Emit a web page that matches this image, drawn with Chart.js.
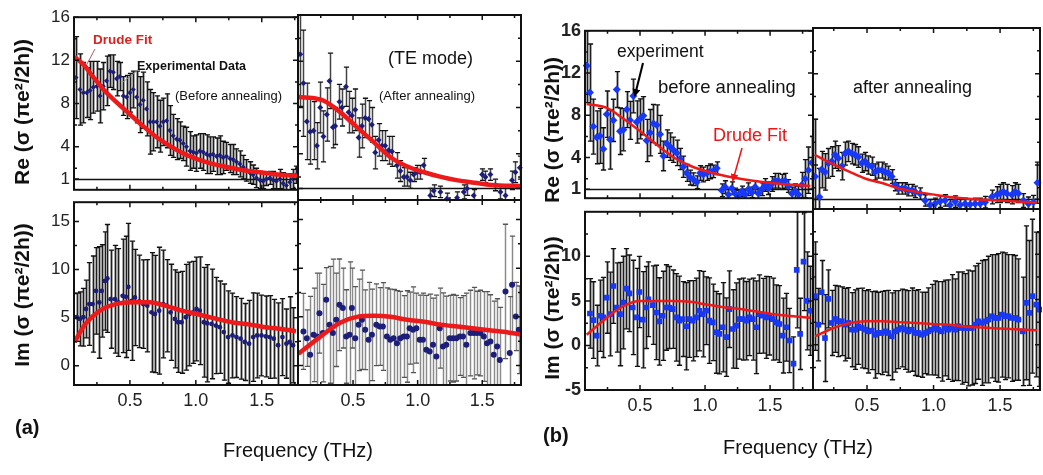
<!DOCTYPE html>
<html>
<head>
<meta charset="utf-8">
<script src="https://cdn.jsdelivr.net/npm/chart.js@4.4.1/dist/chart.umd.min.js"></script>
<style>
  html, body { margin: 0; padding: 0; background: #fff; }
  #fig { position: relative; width: 1043px; height: 475px; overflow: hidden;
         font-family: "Liberation Sans", Arial, sans-serif; color: #111; }
  #fig canvas { position: absolute; }
  .t { position: absolute; white-space: nowrap; line-height: 1; transform: translateY(-50%); }
  .yt { position: absolute; white-space: nowrap; line-height: 1; font-weight: bold;
        transform: translate(-50%, -50%) rotate(-90deg); }
  #notes { position: absolute; left: 0; top: 0; }
</style>
</head>
<body>
<div id="fig">
  <svg id="notes" width="1043" height="475">
    <defs>
      <marker id="headK" markerWidth="8" markerHeight="8" refX="6" refY="4" orient="auto" markerUnits="userSpaceOnUse">
        <path d="M0,0 L8,4 L0,8 z" fill="#000"/>
      </marker>
      <marker id="headR" markerWidth="8" markerHeight="8" refX="6" refY="4" orient="auto" markerUnits="userSpaceOnUse">
        <path d="M0,0 L8,4 L0,8 z" fill="#f01414"/>
      </marker>
    </defs>
    <line x1="95" y1="49" x2="87" y2="64" stroke="#b05a5a" stroke-width="1"/>
    <line x1="138" y1="70" x2="123" y2="82" stroke="#888" stroke-width="1"/>
    <line x1="643" y1="63" x2="635" y2="95" stroke="#000" stroke-width="2" marker-end="url(#headK)"/>
    <line x1="742" y1="148" x2="733" y2="180" stroke="#f01414" stroke-width="1.5" marker-end="url(#headR)"/>
  </svg>

  <div class="t" style="left:93px;top:40px;font-size:13.5px;font-weight:bold;color:#e0201c">Drude Fit</div>
  <div class="t" style="left:137px;top:66px;font-size:12.5px;font-weight:bold">Experimental Data</div>
  <div class="t" style="left:175px;top:95px;font-size:13px">(Before annealing)</div>
  <div class="t" style="left:388px;top:58px;font-size:18px">(TE mode)</div>
  <div class="t" style="left:379px;top:95px;font-size:13px">(After annealing)</div>

  <div class="t" style="left:617px;top:52px;font-size:17.5px">experiment</div>
  <div class="t" style="left:658px;top:87px;font-size:18.5px">before annealing</div>
  <div class="t" style="left:713px;top:135px;font-size:18px;color:#f01414">Drude Fit</div>
  <div class="t" style="left:853px;top:87px;font-size:18px">after annealing</div>

  <div class="yt" style="left:21px;top:112px;font-size:21px">Re (σ (πe²/2h))</div>
  <div class="yt" style="left:21px;top:295px;font-size:21px">Im (σ (πe²/2h))</div>
  <div class="yt" style="left:551px;top:130px;font-size:21px">Re (σ (πe²/2h))</div>
  <div class="yt" style="left:551px;top:308px;font-size:21px">Im (σ (πe²/2h))</div>

  <div class="t" style="left:223px;top:450px;font-size:20px">Frequency (THz)</div>
  <div class="t" style="left:723px;top:447px;font-size:20px">Frequency (THz)</div>
  <div class="t" style="left:15px;top:427px;font-size:20px;font-weight:bold">(a)</div>
  <div class="t" style="left:543px;top:435px;font-size:20px;font-weight:bold">(b)</div>
</div>

<script>
// ---- axis ticks ----
const xLabelTicks = [0.5, 1.0, 1.5];
const xMinorTicks = [0.25, 0.75, 1.25, 1.75];
const reTicks = [1, 4, 8, 12, 16];
const reMinor = [2, 6, 10, 14];
const imTicksA = [0, 5, 10, 15];
const imMinorA = [2.5, 7.5, 12.5];
const imTicksB = [-5, 0, 5, 10];
const imMinorB = [-2.5, 2.5, 7.5, 12.5];

// ---- (a) Re, before annealing ----
const aReBeforeX = [0.091,0.121,0.147,0.172,0.197,0.222,0.248,0.273,0.298,0.323,0.349,0.374,0.399,0.424,0.450,0.475,0.500,0.525,0.551,0.576,0.601,0.626,0.652,0.677,0.702,0.727,0.753,0.778,0.803,0.828,0.854,0.879,0.904,0.929,0.955,0.980,1.005,1.030,1.056,1.081,1.106,1.131,1.157,1.182,1.207,1.232,1.258,1.283,1.308,1.333,1.359,1.384,1.409,1.434,1.460,1.485,1.510,1.535,1.561,1.586,1.611,1.636,1.662,1.687,1.712,1.737,1.763];
const aReBeforeY = [10.4,9.3,9.0,9.0,9.2,9.5,9.6,8.7,9.6,10.1,11.0,10.9,10.3,10.5,8.7,8.6,9.0,9.3,8.6,7.9,8.3,7.5,6.3,6.3,6.3,5.9,6.3,6.4,5.5,5.0,4.7,4.6,4.3,4.0,3.6,3.5,3.4,3.6,3.5,3.3,3.2,3.3,3.1,3.2,3.0,3.1,2.9,2.8,2.6,2.4,2.1,1.8,1.6,1.4,1.1,0.9,0.8,1.0,1.1,0.9,0.8,1.0,0.6,0.4,0.7,1.0,1.4];
const aReBeforeErr = [3.8,3.3,2.8,2.3,2.7,2.4,2.3,2.5,2.2,2.3,1.5,1.6,1.6,1.3,1.8,2.0,1.8,1.7,2.4,2.6,2.6,2.5,3.0,2.7,2.4,2.4,2.2,2.5,2.3,2.0,1.9,1.7,1.6,1.8,1.8,1.5,1.7,1.6,1.7,1.8,1.7,1.6,1.7,1.8,1.5,1.3,1.3,1.4,1.2,1.2,1.1,1.0,1.0,0.9,0.9,0.8,0.7,0.6,0.6,0.8,0.7,0.9,1.0,0.9,0.8,0.9,0.8];
const aReBeforeFitX = [0.08,0.15,0.2,0.3,0.4,0.5,0.6,0.7,0.8,0.9,1.0,1.1,1.2,1.3,1.4,1.5,1.6,1.7,1.77];
const aReBeforeFitY = [12.3,11.6,10.8,9.3,8.1,7.0,5.9,4.9,4.1,3.4,2.9,2.5,2.2,1.95,1.75,1.6,1.45,1.35,1.3];

// ---- (a) Re, after annealing ----
const aReAfterX = [0.091,0.116,0.142,0.168,0.194,0.220,0.246,0.271,0.297,0.318,0.344,0.362,0.395,0.414,0.445,0.465,0.491,0.517,0.543,0.569,0.594,0.620,0.646,0.672,0.698,0.724,0.749,0.775,0.801,0.840,0.866,0.892,0.917,0.943,0.969,0.995,1.021,1.047,1.098,1.124,1.176,1.227,1.305,1.357,1.382,1.434,1.499,1.525,1.563,1.602,1.641,1.680,1.731,1.757,1.791];
const aReAfterY = [12.6,10.1,6.8,5.9,6.0,4.7,8.0,5.5,7.4,10.3,6.3,6.4,8.5,8.0,9.8,7.6,7.3,7.8,5.4,6.4,7.1,7.0,6.5,4.1,5.2,4.7,4.7,4.3,4.2,3.0,2.5,2.0,2.0,1.7,2.2,2.4,2.4,3.0,0.4,0.8,0.7,0.1,0.2,0.7,1.0,0.4,2.2,2.0,2.2,1.3,0.7,0.4,1.7,2.4,2.8];
const aReAfterErr = [4.5,4.6,3.3,2.8,2.5,2.0,2.2,2.2,2.3,2.4,1.8,1.6,1.5,1.6,1.7,1.8,1.5,1.8,1.7,1.9,1.7,1.6,1.5,1.4,1.4,1.3,1.3,1.2,1.3,1.1,0.9,0.8,0.8,0.7,0.6,0.6,0.6,0.6,0.6,0.5,0.5,0.5,0.5,0.6,0.6,0.5,0.5,0.5,0.5,0.5,0.6,0.6,0.8,0.9,1.0];
const aReAfterFitX = [0.077,0.15,0.2,0.27,0.40,0.53,0.66,0.79,0.92,1.05,1.18,1.31,1.44,1.57,1.8];
const aReAfterFitY = [8.9,8.85,8.8,8.6,7.6,6.3,5.0,3.7,2.9,2.4,2.0,1.7,1.5,1.3,1.2];

// ---- (a) Im, before annealing ----
const aImBeforeX = [0.096,0.121,0.147,0.167,0.192,0.217,0.243,0.268,0.286,0.311,0.329,0.354,0.387,0.412,0.445,0.470,0.488,0.513,0.538,0.571,0.601,0.632,0.664,0.690,0.722,0.753,0.778,0.808,0.841,0.866,0.892,0.924,0.950,0.980,1.005,1.030,1.061,1.086,1.119,1.152,1.182,1.212,1.245,1.278,1.308,1.339,1.371,1.404,1.435,1.465,1.498,1.531,1.561,1.591,1.624,1.657,1.687,1.712,1.737];
const aImBeforeY = [5.04,4.87,5.04,5.90,6.41,6.41,7.78,6.58,7.78,8.81,9.08,6.92,6.92,6.58,7.27,7.16,8.19,6.75,7.10,6.69,6.41,6.24,5.55,5.38,5.72,6.41,6.24,5.55,4.87,4.52,4.52,5.04,5.38,5.55,5.90,5.72,4.52,4.42,4.35,4.18,4.01,3.50,2.98,3.15,2.98,2.81,2.47,2.30,2.98,3.15,3.15,3.05,2.98,2.81,2.13,2.98,2.30,2.47,2.13];
const aImBeforeErr = [2.5,2.8,3.0,3.0,4.3,5.0,4.5,5.8,4.8,5.1,5.6,5.1,5.6,5.6,5.9,6.3,6.6,6.2,5.0,4.8,4.6,4.8,6.2,6.1,6.6,5.6,4.8,5.0,5.1,5.2,5.3,5.5,5.4,5.3,5.4,5.6,5.7,6.1,5.7,5.0,4.8,5.0,4.8,4.4,4.2,4.2,4.0,4.5,4.6,4.4,4.2,4.2,4.3,4.1,4.4,4.0,3.6,4.7,3.9];
const aImBeforeFitX = [0.08,0.166,0.27,0.39,0.52,0.65,0.78,0.90,1.03,1.15,1.28,1.40,1.53,1.66,1.76];
const aImBeforeFitY = [2.5,4.4,5.7,6.4,6.6,6.6,6.2,5.7,5.3,4.9,4.5,4.3,4.0,3.8,3.6];

// ---- (a) Im, after annealing ----
const aImAfterX = [0.116,0.142,0.168,0.194,0.220,0.240,0.266,0.292,0.318,0.344,0.370,0.395,0.421,0.447,0.473,0.491,0.517,0.543,0.569,0.594,0.620,0.646,0.680,0.706,0.731,0.762,0.788,0.814,0.840,0.866,0.892,0.917,0.938,0.964,0.990,1.016,1.041,1.067,1.093,1.119,1.145,1.171,1.196,1.222,1.248,1.274,1.300,1.326,1.351,1.377,1.408,1.434,1.460,1.486,1.512,1.537,1.563,1.589,1.615,1.636,1.680,1.713,1.731,1.760,1.783];
const aImAfterY = [3.50,2.81,1.11,3.15,2.98,5.38,3.33,6.75,4.18,3.33,4.70,6.24,5.90,2.98,3.15,5.90,2.81,4.18,4.70,3.67,2.64,3.15,4.18,4.01,4.01,2.98,2.64,2.81,2.30,2.81,2.98,2.98,3.84,3.67,3.84,2.64,2.64,1.61,1.44,2.13,0.93,3.84,1.96,2.13,2.81,2.81,2.81,2.98,2.98,2.13,3.33,3.33,3.33,3.33,2.98,2.30,2.47,1.11,1.96,0.58,7.61,1.28,8.29,5.04,3.67];
const aImAfterErr = [3.9,2.9,6.0,4.8,6.5,4.1,5.0,3.3,6.0,7.6,4.8,4.7,4.1,4.8,7.5,4.1,5.3,4.7,5.1,4.1,5.9,4.7,4.2,4.0,4.5,5.0,5.2,5.0,5.4,4.8,4.2,4.7,3.7,4.4,3.6,4.6,4.8,5.6,5.9,4.8,6.3,4.1,5.5,5.0,4.4,4.5,4.4,4.0,4.2,5.3,4.4,4.7,4.3,4.4,4.6,5.3,4.8,5.5,4.9,5.4,6.9,5.8,5.0,3.5,4.5];
const aImAfterFitX = [0.077,0.27,0.40,0.53,0.66,0.79,0.92,1.05,1.18,1.31,1.44,1.57,1.70,1.80];
const aImAfterFitY = [1.2,3.2,4.4,5.0,5.1,5.0,4.7,4.5,4.2,4.0,3.8,3.6,3.4,3.2];

// ---- (b) Re, before annealing ----
const bReBeforeX = [0.090,0.115,0.141,0.167,0.192,0.218,0.244,0.269,0.295,0.321,0.346,0.372,0.398,0.423,0.449,0.474,0.500,0.526,0.551,0.577,0.603,0.628,0.654,0.680,0.705,0.731,0.756,0.782,0.808,0.833,0.859,0.885,0.910,0.936,0.962,0.987,1.013,1.039,1.064,1.090,1.128,1.154,1.180,1.205,1.231,1.256,1.282,1.308,1.333,1.359,1.385,1.410,1.436,1.462,1.487,1.513,1.538,1.564,1.590,1.615,1.641,1.667,1.692,1.718,1.744,1.769,1.795,1.821];
const bReBeforeY = [12.70,10.15,6.93,5.91,6.05,4.82,8.10,5.70,7.52,10.44,6.49,6.63,8.54,7.52,9.83,7.37,7.66,7.96,5.61,6.35,7.22,7.08,6.20,4.15,5.32,5.03,4.74,4.44,3.86,3.13,2.54,2.10,1.95,1.66,2.54,2.39,2.54,2.69,2.69,2.98,0.9,1.2,0.5,1.1,0.6,0.4,0.8,0.5,1.0,0.7,1.2,0.6,1.0,1.4,1.1,1.5,1.8,1.8,1.7,1.8,1.3,0.6,0.8,0.5,1.4,2.0,2.8,3.5];
const bReBeforeErr = [3.5,4.6,2.6,2.5,2.6,2.0,2.2,2.8,2.0,1.7,2.2,2.0,1.7,1.8,1.6,2.0,1.9,1.8,2.0,2.2,1.8,1.9,1.8,1.4,1.3,1.3,1.2,1.2,1.0,1.0,0.8,0.7,0.6,0.6,0.7,0.7,0.7,0.7,0.6,0.6,0.6,0.6,0.5,0.6,0.5,0.5,0.5,0.5,0.6,0.5,0.6,0.5,0.6,0.6,0.6,0.7,0.7,0.7,0.7,0.7,0.6,0.6,0.7,0.8,1.2,1.8,2.2,2.5];
const bReBeforeFitX = [0.09,0.245,0.37,0.50,0.63,0.76,0.89,1.01,1.14,1.27,1.40,1.53,1.66,1.81];
const bReBeforeFitY = [9.07,8.7,7.7,6.5,5.2,4.0,3.2,2.7,2.3,2.0,1.75,1.57,1.43,1.3];

// ---- (b) Re, after annealing ----
const bReAfterX = [0.109,0.142,0.159,0.184,0.209,0.234,0.259,0.284,0.310,0.335,0.360,0.385,0.410,0.435,0.460,0.485,0.510,0.535,0.560,0.585,0.610,0.635,0.660,0.685,0.711,0.736,0.761,0.786,0.811,0.836,0.861,0.898,0.936,0.974,1.011,1.049,1.086,1.124,1.162,1.199,1.237,1.274,1.312,1.350,1.387,1.437,1.475,1.500,1.525,1.550,1.588,1.613,1.638,1.675,1.713,1.751,1.781];
const bReAfterY = [3.0,1.2,3.6,3.4,4.15,4.3,4.9,4.6,3.9,5.0,5.2,5.0,4.9,4.7,4.15,4.3,4.0,3.9,3.4,3.55,3.55,3.4,3.3,3.0,2.25,1.95,1.95,1.95,1.8,1.8,1.65,1.5,0.9,0.5,0.6,0.8,0.9,0.5,0.8,0.5,0.6,0.55,0.6,0.6,0.75,1.2,1.4,1.5,1.65,1.5,1.4,1.65,1.5,0.9,0.6,0.75,2.45];
const bReAfterErr = [5.0,2.5,1.6,1.6,1.3,1.3,1.2,1.1,1.2,1.0,0.9,0.9,0.9,0.9,0.8,0.8,0.8,0.8,0.7,0.7,0.7,0.7,0.6,0.6,0.5,0.5,0.5,0.5,0.5,0.5,0.5,0.5,0.5,0.5,0.5,0.5,0.5,0.5,0.5,0.5,0.5,0.5,0.5,0.5,0.5,0.6,0.7,0.8,0.8,0.8,0.8,0.8,0.8,0.6,0.6,0.6,1.8];
const bReAfterFitX = [0.105,0.24,0.37,0.49,0.62,0.74,0.87,0.99,1.12,1.24,1.37,1.49,1.62,1.78];
const bReAfterFitY = [4.9,4.1,3.4,2.8,2.4,1.95,1.65,1.43,1.2,1.06,0.97,0.9,0.8,0.7];

// ---- (b) Im, before annealing ----
const bImBeforeX = [0.115,0.141,0.167,0.192,0.218,0.244,0.269,0.295,0.321,0.346,0.372,0.392,0.418,0.444,0.474,0.495,0.521,0.546,0.564,0.598,0.623,0.649,0.674,0.700,0.726,0.751,0.777,0.803,0.828,0.854,0.880,0.905,0.931,0.956,0.982,1.008,1.033,1.059,1.085,1.110,1.136,1.162,1.187,1.213,1.239,1.264,1.290,1.315,1.341,1.367,1.392,1.418,1.444,1.469,1.495,1.521,1.546,1.572,1.597,1.623,1.649,1.680,1.705,1.731,1.757,1.782,1.808];
const bImBeforeY = [3.59,2.85,1.11,3.33,3.15,5.37,3.52,6.67,4.26,3.52,4.81,6.37,5.85,4.26,3.15,6.00,2.89,4.26,5.19,4.52,3.70,2.70,3.33,4.26,4.26,4.07,3.15,2.78,2.96,2.15,2.96,2.78,3.15,3.89,3.52,3.89,2.78,2.59,1.48,1.30,2.04,0.93,4.07,1.85,2.22,2.96,2.96,2.78,3.15,2.96,2.04,3.52,3.33,3.15,3.33,2.96,2.59,2.41,1.11,2.04,0.56,-2.04,8.48,1.30,9.41,5.00,3.89];
const bImBeforeErr = [3.9,4.3,3.4,4.0,4.5,4.0,4.7,4.2,5.0,5.8,5.2,4.5,4.3,5.3,5.5,4.0,5.4,4.6,4.2,4.4,5.3,4.9,5.0,4.8,4.6,4.4,4.9,5.0,4.2,4.9,4.3,4.5,4.4,4.5,4.8,3.8,4.8,4.3,4.6,4.5,5.0,4.4,4.3,4.4,4.8,4.5,4.6,4.4,4.3,4.6,5.2,4.4,4.2,4.6,4.4,4.6,4.2,4.3,4.2,3.8,3.6,3.0,6.5,4.0,5.5,5.5,5.0];
const bImBeforeFitX = [0.09,0.245,0.37,0.50,0.63,0.76,0.89,1.01,1.14,1.27,1.40,1.53,1.66,1.81];
const bImBeforeFitY = [1.2,3.1,4.4,5.0,5.0,5.0,4.9,4.6,4.3,4.1,3.8,3.5,3.3,3.1];

// ---- (b) Im, after annealing ----
const bImAfterX = [0.109,0.134,0.159,0.184,0.209,0.234,0.259,0.284,0.310,0.335,0.360,0.385,0.410,0.435,0.460,0.485,0.510,0.535,0.560,0.585,0.610,0.635,0.660,0.685,0.711,0.736,0.761,0.786,0.811,0.836,0.861,0.886,0.911,0.936,0.961,0.986,1.011,1.036,1.061,1.086,1.112,1.137,1.162,1.187,1.212,1.237,1.262,1.287,1.312,1.337,1.362,1.387,1.412,1.437,1.462,1.487,1.513,1.538,1.563,1.588,1.613,1.638,1.670,1.695,1.720,1.743,1.771,1.796];
const bImAfterY = [5.37,2.22,5.81,0.74,5.07,2.41,2.85,2.59,2.59,2.22,2.41,1.67,1.67,2.04,1.85,1.67,1.48,1.56,1.11,1.30,1.30,1.48,1.30,0.93,1.48,1.67,1.85,1.67,1.48,1.67,1.30,1.30,1.11,1.30,1.48,1.67,1.85,1.67,1.48,1.85,1.67,1.85,1.67,2.04,1.85,1.85,1.85,1.85,2.22,2.59,2.41,2.59,2.78,3.15,2.96,2.96,3.33,3.15,3.15,2.96,2.96,2.78,1.48,4.63,3.52,5.37,4.44,3.89];
const bImAfterErr = [6.0,4.0,3.5,4.8,3.2,3.6,3.7,3.9,3.8,4.0,3.9,4.1,4.4,4.2,4.4,4.3,4.6,4.3,4.8,4.5,4.6,4.5,4.7,4.8,4.5,4.3,4.3,4.4,4.5,4.6,4.7,4.8,4.7,4.5,4.8,5.0,5.2,5.3,5.5,5.3,5.5,5.9,5.6,6.0,6.2,6.0,6.4,6.3,6.5,6.4,6.9,6.8,7.0,6.8,7.0,7.1,6.9,7.0,6.8,7.0,6.9,6.7,6.0,8.5,8.0,8.5,8.0,8.5];
const bImAfterFitX = [0.11,0.24,0.37,0.49,0.62,0.74,0.87,0.99,1.12,1.24,1.37,1.49,1.62,1.78];
const bImAfterFitY = [0.93,1.8,2.4,2.6,2.6,2.5,2.4,2.3,2.2,2.0,1.9,1.8,1.7,1.6];

Chart.defaults.font.family = '"Liberation Sans", Arial, sans-serif';

const NAVY = 'rgb(28,30,122)';
const BLUE = 'rgb(24,56,245)';
const RED = 'rgb(236,26,26)';

const pts = (xs, ys) => xs.map((x, i) => ({ x, y: ys[i] }));

// error bars, drawn under the markers: a grey band, a dark stem and black caps
const errorBars = {
  id: 'errorBars',
  beforeDatasetsDraw(chart, args, o) {
    const { ctx, chartArea: a, scales: { x, y } } = chart;
    ctx.save();
    ctx.beginPath();
    ctx.rect(a.left, a.top, a.right - a.left, a.bottom - a.top);
    ctx.clip();
    chart.data.datasets.forEach(ds => {
      if (!ds.errors) return;
      const bars = ds.data.map((p, i) => ({
        px: Math.round(x.getPixelForValue(p.x)) + 0.5,
        y1: y.getPixelForValue(p.y + ds.errors[i]),
        y2: y.getPixelForValue(p.y - ds.errors[i])
      }));
      ctx.lineCap = 'butt';
      ctx.strokeStyle = o.band;
      ctx.lineWidth = 3;
      ctx.beginPath();
      bars.forEach(b => { ctx.moveTo(b.px, b.y1); ctx.lineTo(b.px, b.y2); });
      ctx.stroke();
      ctx.strokeStyle = o.bar;
      ctx.lineWidth = 1;
      ctx.beginPath();
      bars.forEach(b => { ctx.moveTo(b.px, b.y1); ctx.lineTo(b.px, b.y2); });
      ctx.stroke();
      ctx.strokeStyle = o.cap;
      ctx.lineWidth = 1.3;
      ctx.beginPath();
      bars.forEach(b => {
        ctx.moveTo(b.px - o.capW, b.y1); ctx.lineTo(b.px + o.capW, b.y1);
        ctx.moveTo(b.px - o.capW, b.y2); ctx.lineTo(b.px + o.capW, b.y2);
      });
      ctx.stroke();
    });
    // horizontal guide at sigma = 1
    if (o.ref !== undefined) {
      const ry = Math.round(y.getPixelForValue(o.ref)) + 0.5;
      ctx.strokeStyle = '#111';
      ctx.lineWidth = 1.5;
      ctx.beginPath();
      ctx.moveTo(a.left, ry); ctx.lineTo(a.right, ry);
      ctx.stroke();
    }
    ctx.restore();
  }
};

// box and inward ticks on all four sides
const frame = {
  id: 'frame',
  afterDatasetsDraw(chart, args, o) {
    const { ctx, chartArea: a, scales: { x, y } } = chart;
    ctx.save();
    ctx.strokeStyle = '#111';
    ctx.lineWidth = 1.5;
    ctx.beginPath();
    const tick = (vals, len, horiz) => vals.forEach(v => {
      if (horiz) {
        const px = x.getPixelForValue(v);
        ctx.moveTo(px, a.bottom); ctx.lineTo(px, a.bottom - len);
        ctx.moveTo(px, a.top); ctx.lineTo(px, a.top + len);
      } else {
        const py = y.getPixelForValue(v);
        ctx.moveTo(a.left, py); ctx.lineTo(a.left + len, py);
        ctx.moveTo(a.right, py); ctx.lineTo(a.right - len, py);
      }
    });
    tick(xLabelTicks, 5, true);
    tick(xMinorTicks, 3, true);
    tick(o.yMajor, 5, false);
    tick(o.yMinor, 3, false);
    ctx.stroke();
    ctx.lineWidth = 2;
    ctx.strokeRect(a.left, a.top, a.right - a.left, a.bottom - a.top);
    ctx.restore();
  }
};

const fig = document.getElementById('fig');

function addPanel(p) {
  const L = 44, R = 14, T = 12, B = p.xLabels ? 26 : 4;
  const [bx, by, bw, bh] = p.box;
  const W = bw + L + R, H = bh + T + B;
  const cv = document.createElement('canvas');
  cv.width = W; cv.height = H;
  cv.style.left = (bx - L) + 'px';
  cv.style.top = (by - T) + 'px';
  cv.style.width = W + 'px';
  cv.style.height = H + 'px';
  fig.insertBefore(cv, document.getElementById('notes'));

  new Chart(cv, {
    type: 'scatter',
    data: {
      datasets: [
        {
          data: pts(p.fitX, p.fitY),
          showLine: true,
          borderColor: RED,
          borderWidth: p.fitWidth,
          pointRadius: 0,
          cubicInterpolationMode: 'monotone',
          clip: 0
        },
        {
          data: pts(p.xs, p.ys),
          errors: p.err,
          pointStyle: p.marker,
          pointRadius: p.size,
          backgroundColor: p.color,
          borderColor: p.color,
          borderWidth: 0,
          clip: 2
        }
      ]
    },
    options: {
      responsive: false,
      animation: false,
      devicePixelRatio: 1,
      events: [],
      layout: { padding: { top: T, right: R, left: 0, bottom: 0 } },
      plugins: {
        legend: { display: false },
        tooltip: { enabled: false },
        errorBars: { band: p.band, bar: p.bar, cap: p.cap, capW: 2.6, ref: p.ref },
        frame: { yMajor: p.yTicks, yMinor: p.yMinor }
      },
      scales: {
        x: {
          type: 'linear', min: p.xr[0], max: p.xr[1],
          afterBuildTicks: s => { s.ticks = xLabelTicks.map(v => ({ value: v })); },
          afterFit: s => { s.height = B; },
          grid: { display: false, drawTicks: false },
          border: { display: false },
          ticks: {
            display: !!p.xLabels, padding: 5, maxRotation: 0, autoSkip: false,
            color: '#222', font: { size: 18 },
            callback: v => v.toFixed(1)
          }
        },
        y: {
          type: 'linear', min: p.yr[0], max: p.yr[1],
          afterBuildTicks: s => { s.ticks = p.yTicks.map(v => ({ value: v })); },
          afterFit: s => { s.width = L; },
          grid: { display: false, drawTicks: false },
          border: { display: false },
          ticks: {
            display: !!p.yLabels, padding: 4, autoSkip: false,
            color: '#222', font: { size: p.yFont, weight: p.yWeight }
          }
        }
      }
    },
    plugins: [errorBars, frame]
  });
}

const darkBars = { band: '#a8a8a8', bar: '#1e1e1e', cap: '#111' };
const aStyle = { fitWidth: 4.5, yFont: 17, yWeight: 'normal', ...darkBars };
const bStyle = { fitWidth: 2.5, yFont: 18, yWeight: 'bold', color: BLUE, ...darkBars };

addPanel({ ...aStyle, box: [74, 15, 224, 185], xr: [0.076, 1.775], yr: [0, 16],
  yTicks: reTicks, yMinor: reMinor, yLabels: true, ref: 1,
  xs: aReBeforeX, ys: aReBeforeY, err: aReBeforeErr, fitX: aReBeforeFitX, fitY: aReBeforeFitY,
  marker: 'rectRot', size: 2.6, color: NAVY });
addPanel({ ...aStyle, box: [298, 15, 223, 185], xr: [0.074, 1.80], yr: [0, 16],
  yTicks: reTicks, yMinor: reMinor, ref: 1,
  xs: aReAfterX, ys: aReAfterY, err: aReAfterErr, fitX: aReAfterFitX, fitY: aReAfterFitY,
  marker: 'rectRot', size: 3, color: NAVY, band: '#d0d0d0', bar: '#444' });
addPanel({ ...aStyle, box: [74, 200, 224, 185], xr: [0.076, 1.775], yr: [-2, 17],
  yTicks: imTicksA, yMinor: imMinorA, yLabels: true, xLabels: true,
  xs: aImBeforeX, ys: aImBeforeY, err: aImBeforeErr, fitX: aImBeforeFitX, fitY: aImBeforeFitY,
  marker: 'circle', size: 2.4, color: NAVY });
addPanel({ ...aStyle, box: [298, 200, 223, 185], xr: [0.074, 1.80], yr: [-2, 17],
  yTicks: imTicksA, yMinor: imMinorA, xLabels: true,
  xs: aImAfterX, ys: aImAfterY, err: aImAfterErr, fitX: aImAfterFitX, fitY: aImAfterFitY,
  marker: 'circle', size: 3, color: NAVY, band: '#e4e4e4', bar: '#8a8a8a', cap: '#555' });

addPanel({ ...bStyle, box: [585, 28, 228, 181], xr: [0.077, 1.83], yr: [0.15, 16],
  yTicks: reTicks, yMinor: reMinor, yLabels: true, ref: 1,
  xs: bReBeforeX, ys: bReBeforeY, err: bReBeforeErr, fitX: bReBeforeFitX, fitY: bReBeforeFitY,
  marker: 'rectRot', size: 4 });
addPanel({ ...bStyle, box: [813, 28, 227, 181], xr: [0.094, 1.80], yr: [0.15, 16],
  yTicks: reTicks, yMinor: reMinor, ref: 1,
  xs: bReAfterX, ys: bReAfterY, err: bReAfterErr, fitX: bReAfterFitX, fitY: bReAfterFitY,
  marker: 'rectRot', size: 4 });
addPanel({ ...bStyle, box: [585, 209, 228, 181], xr: [0.077, 1.83], yr: [-5, 15],
  yTicks: imTicksB, yMinor: imMinorB, yLabels: true, xLabels: true,
  xs: bImBeforeX, ys: bImBeforeY, err: bImBeforeErr, fitX: bImBeforeFitX, fitY: bImBeforeFitY,
  marker: 'rect', size: 4 });
addPanel({ ...bStyle, box: [813, 209, 227, 181], xr: [0.094, 1.80], yr: [-5, 15],
  yTicks: imTicksB, yMinor: imMinorB, xLabels: true,
  xs: bImAfterX, ys: bImAfterY, err: bImAfterErr, fitX: bImAfterFitX, fitY: bImAfterFitY,
  marker: 'rect', size: 4 });
</script>
</body>
</html>
